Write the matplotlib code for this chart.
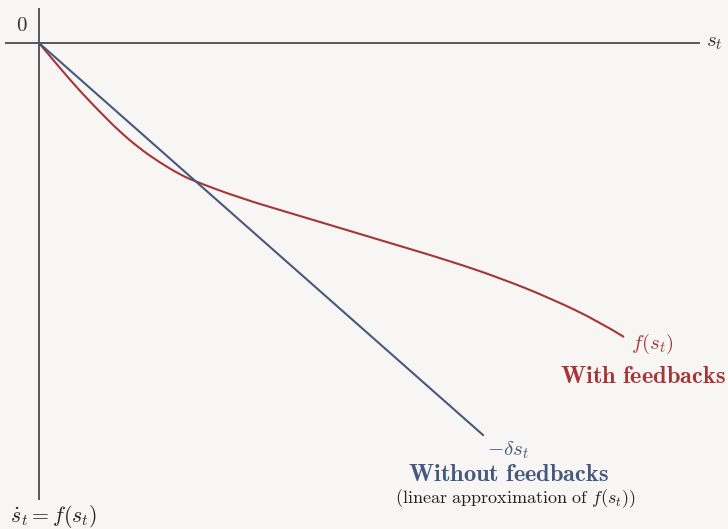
import matplotlib
matplotlib.use("Agg")
import matplotlib.pyplot as plt
from matplotlib.path import Path
from matplotlib.patches import PathPatch

plt.rcParams["mathtext.fontset"] = "cm"

# state s_t and the nonlinear response f(s_t) (with feedbacks)
s_curve = [0.0, 0.20, 0.40, 0.60, 0.80, 1.00, 1.20, 1.40, 1.55, 2.01, 2.51,
           3.01, 3.51, 4.11, 4.61, 5.11, 5.61, 5.85]
f_curve = [0.0, -0.24, -0.47, -0.68, -0.88, -1.05, -1.19, -1.31, -1.38, -1.55,
           -1.70, -1.85, -2.00, -2.18, -2.35, -2.55, -2.79, -2.94]

# linear approximation -delta * s_t (without feedbacks)
s_lin = [0.0, 4.44]
f_lin = [0.0, -3.92]

bg = "#f7f6f5"
red = "#a83536"
blue = "#46597d"
axis_col = "#2e2e2e"


def smooth_path(xs, ys):
    # quadratic B-spline through the given points: points act as control
    # points, the curve runs through the midpoints and both end points
    pts = list(zip(xs, ys))
    verts = [pts[0]]
    codes = [Path.MOVETO]
    for i in range(1, len(pts) - 1):
        mid = ((pts[i][0] + pts[i + 1][0]) / 2, (pts[i][1] + pts[i + 1][1]) / 2)
        if i == len(pts) - 2:
            mid = pts[-1]
        verts += [pts[i], mid]
        codes += [Path.CURVE3, Path.CURVE3]
    return Path(verts, codes)


fig = plt.figure(figsize=(7.28, 5.29), dpi=100, facecolor=bg)
ax = fig.add_axes([0, 0, 1, 1], facecolor=bg)
ax.set_xlim(-0.39, 6.89)
ax.set_ylim(-4.86, 0.43)
ax.axis("off")

# coordinate axes
ax.plot([-0.34, 6.61], [0, 0], color=axis_col, lw=1.1, solid_capstyle="butt")
ax.plot([0, 0], [0.35, -4.57], color=axis_col, lw=1.1, solid_capstyle="butt")

ax.plot(s_lin, f_lin, color=blue, lw=1.5)
ax.add_patch(PathPatch(smooth_path(s_curve, f_curve), facecolor="none",
                       edgecolor=red, lw=1.5))

fs = 15
ax.text(-0.17, 0.18, r"$0$", fontsize=fs, color="#333333", ha="center", va="center")
ax.text(6.75, 0.01, r"$s_t$", fontsize=fs, color="#333333", ha="center", va="center")
ax.text(0.145, -4.74, r"$\dot{s}_t = f(s_t)$", fontsize=15.7, color="#222222",
        ha="center", va="center")

ax.text(6.13, -3.01, r"$f(s_t)$", fontsize=fs, color=red, ha="center", va="center")
ax.text(6.04, -3.33, r"$\mathbf{With\ feedbacks}$", fontsize=17.6, color=red,
        ha="center", va="center")

ax.text(4.69, -4.07, r"$-\delta s_t$", fontsize=fs, color=blue, ha="center", va="center")
ax.text(4.70, -4.31, r"$\mathbf{Without\ feedbacks}$", fontsize=17.6, color=blue,
        ha="center", va="center")
ax.text(4.76, -4.56, r"$\mathrm{(linear\ approximation\ of\ }f(s_t))$", fontsize=13,
        color="#222222", ha="center", va="center")

fig.savefig("out.png", dpi=100, facecolor=bg)
